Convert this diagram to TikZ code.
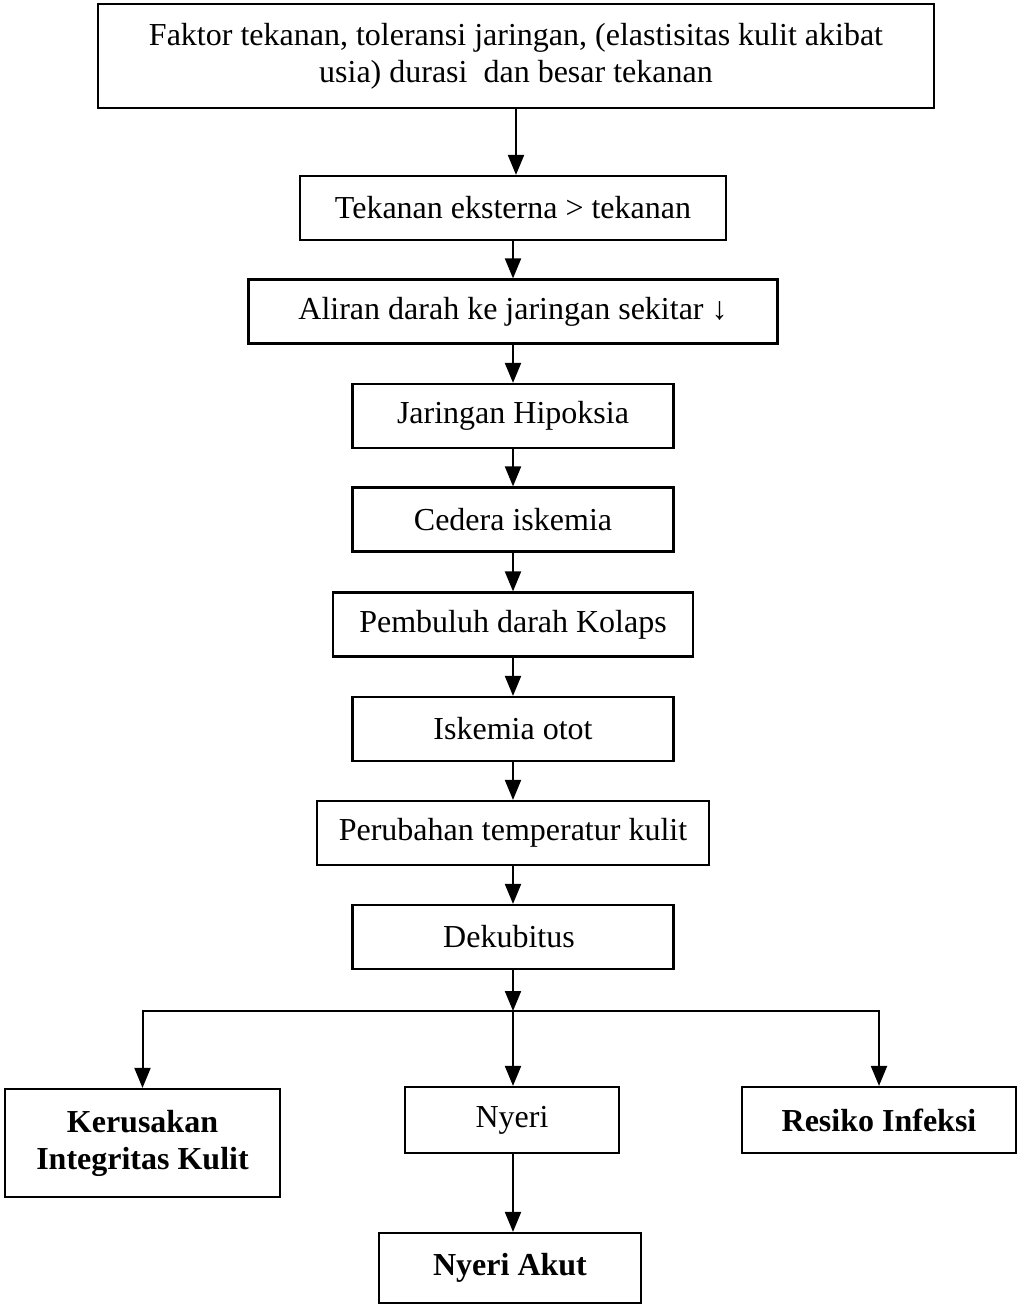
\documentclass[tikz,border=0pt]{standalone}
\usepackage{fontspec}
\setmainfont{Liberation Serif}
\usetikzlibrary{arrows.meta, positioning}

\begin{document}
\begin{tikzpicture}[
  x=0.5pt, y=-0.5pt,
  kotak/.style={draw, line width=1.1pt, align=center, inner sep=0pt,
    font=\fontsize{16}{18.5}\selectfont},
  kotaktebal/.style={kotak, font=\fontsize{16}{18.5}\selectfont\bfseries},
  panah/.style={-{Triangle[length=10pt, width=8pt]}, line width=1pt}
]
  \useasboundingbox (0,0) rectangle (1017,1306);
  % Top box (two lines)
  \node[kotak, minimum width=418pt, minimum height=52pt] (faktor) at (516,56)
    {Faktor tekanan, toleransi jaringan, (elastisitas kulit akibat\\
     usia) durasi\ \ dan besar tekanan};
  % Chain: name / centre y / width (pt) / text
  \foreach \n/\y/\w/\t in {
    tekanan/208/213/{Tekanan eksterna > tekanan},
    aliran/311.5/264.5/{Aliran darah ke jaringan sekitar ↓},
    hipoksia/416/160.5/{Jaringan Hipoksia},
    cedera/519.5/160.5/{Cedera iskemia},
    pembuluh/624.5/180/{Pembuluh darah Kolaps},
    iskemia/729/160.5/{Iskemia otot},
    perubahan/833/196/{Perubahan temperatur kulit},
    dekubitus/937/160.5/{Dekubitus}
  }{
    \node[kotak, minimum width=\w pt, minimum height=32pt] (\n) at (513,\y) {\t};
  }
  \foreach \a/\b in {faktor/tekanan, tekanan/aliran, aliran/hipoksia,
    hipoksia/cedera, cedera/pembuluh, pembuluh/iskemia,
    iskemia/perubahan, perubahan/dekubitus}{
    \draw[panah] (\a.south) -- (\a.south |- \b.north);
  }
  % Branches
  \node[kotaktebal, minimum width=137.5pt, minimum height=54pt] (kerusakan) at (142.5,1143)
    {Kerusakan\\Integritas Kulit};
  \node[kotak, minimum width=107pt, minimum height=33pt] (nyeri) at (512,1120) {Nyeri};
  \node[kotaktebal, minimum width=137pt, minimum height=33pt] (resiko) at (879,1120)
    {Resiko Infeksi};
  \node[kotaktebal, minimum width=131pt, minimum height=35pt] (akut) at (510,1268) {Nyeri Akut};
  \coordinate (cabang) at (513,1011);
  \draw[panah] (dekubitus) -- (cabang);
  \draw[panah] (cabang) -| (kerusakan.north);
  \draw[panah] (cabang) -| (resiko.north);
  \draw[panah] (cabang) -- (cabang |- nyeri.north);
  \draw[panah] (cabang |- nyeri.south) -- (cabang |- akut.north);
\end{tikzpicture}
\end{document}
